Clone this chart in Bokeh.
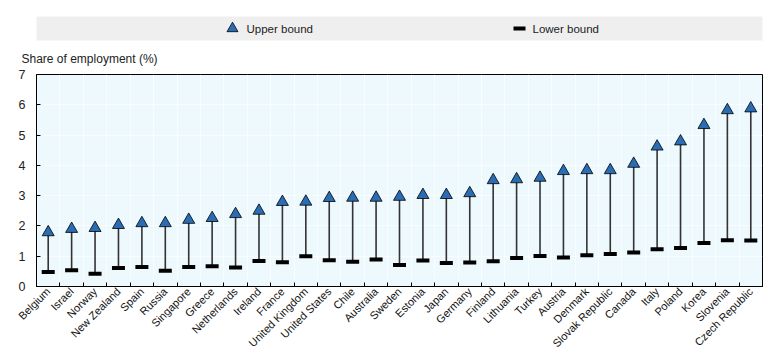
import numpy as np
from bokeh.plotting import figure
from bokeh.layouts import column
from bokeh.models import ColumnDataSource, FixedTicker, Range1d, Title
from bokeh.core.properties import value
from bokeh.embed import file_html
from bokeh.resources import INLINE

countries = ["Belgium", "Israel", "Norway", "New Zealand", "Spain", "Russia", "Singapore",
             "Greece", "Netherlands", "Ireland", "France", "United Kingdom", "United States",
             "Chile", "Australia", "Sweden", "Estonia", "Japan", "Germany", "Finland",
             "Lithuania", "Turkey", "Austria", "Denmark", "Slovak Republic", "Canada",
             "Italy", "Poland", "Korea", "Slovenia", "Czech Republic"]
upper = [1.79, 1.90, 1.93, 2.03, 2.09, 2.09, 2.20, 2.26, 2.39, 2.50, 2.79, 2.80, 2.92,
         2.93, 2.93, 2.96, 3.02, 3.02, 3.08, 3.51, 3.54, 3.59, 3.81, 3.84, 3.84, 4.05,
         4.62, 4.79, 5.33, 5.82, 5.88]
lower = [0.48, 0.54, 0.42, 0.61, 0.64, 0.52, 0.64, 0.67, 0.63, 0.84, 0.80, 1.00, 0.87,
         0.82, 0.89, 0.71, 0.86, 0.78, 0.79, 0.83, 0.94, 1.01, 0.96, 1.03, 1.07, 1.12,
         1.23, 1.27, 1.44, 1.53, 1.52]
y_ticks = [0, 1, 2, 3, 4, 5, 6, 7]
legend_labels = ["Upper bound", "Lower bound"]
y_title = "Share of employment (%)"

NARROW = "Liberation Sans Narrow, Arial Narrow, Liberation Sans, sans-serif"
REG = "Liberation Sans, Arial, sans-serif"
BLUE = "#2a6db4"

xs = list(range(len(countries)))
src = ColumnDataSource(dict(x=xs, upper=upper, lower=lower, name=countries))

# ---- legend strip (frame aligned with the main plot frame; pixel-like coords) ----
leg = figure(width=784, height=41, x_range=Range1d(36, 762), y_range=Range1d(0, 24),
             x_axis_type=None, y_axis_type=None, toolbar_location=None,
             output_backend="svg", min_border_left=36, min_border_right=22,
             min_border_top=16, min_border_bottom=1)
leg.background_fill_color = "#efefef"
leg.border_fill_color = "white"
leg.outline_line_color = None
leg.grid.visible = False
leg.scatter(x=[232], y=[12], marker="triangle", size=11, fill_color=BLUE,
            line_color="black", line_width=0.8)
leg.rect(x=[519], y=[12], width=12, height=4, fill_color="black", line_color=None)
leg.text(x=[246, 532], y=[12, 12], text=legend_labels, text_font=value(NARROW),
         text_font_size="11.5px", text_baseline="middle", text_color="#222222")

# ---- main plot ----
p = figure(width=784, height=318, x_range=Range1d(-0.5, len(countries) - 0.5),
           y_range=Range1d(0, 7), toolbar_location=None, output_backend="svg",
           min_border_left=36, min_border_right=22, min_border_top=31,
           min_border_bottom=73)
p.background_fill_color = "#edf9fd"
p.border_fill_color = "white"
p.outline_line_color = "black"
p.outline_line_width = 1

t = Title(text=y_title, align="left", offset=-15, standoff=17,
          text_font=NARROW, text_font_size="12px", text_font_style="normal",
          text_color="#222222")
p.add_layout(t, "above")

boundaries = [i - 0.5 for i in range(len(countries) + 1)]
p.xaxis.ticker = FixedTicker(ticks=xs, minor_ticks=boundaries)
p.xaxis.major_label_overrides = {i: c for i, c in enumerate(countries)}
p.xaxis.major_tick_in = 0
p.xaxis.major_tick_out = 0
p.xaxis.minor_tick_in = 4
p.xaxis.minor_tick_out = 0
p.xaxis.minor_tick_line_color = "black"
p.xaxis.major_label_orientation = np.pi / 4
p.xaxis.major_label_text_font = REG
p.xaxis.major_label_text_font_size = "11px"
p.xaxis.major_label_text_color = "#111111"
p.xaxis.major_label_standoff = 3
p.xaxis.axis_line_color = "black"

p.yaxis.ticker = FixedTicker(ticks=y_ticks)
p.yaxis.major_tick_in = 4
p.yaxis.major_tick_out = 0
p.yaxis.minor_tick_line_color = None
p.yaxis.major_label_text_font = NARROW
p.yaxis.major_label_text_font_size = "12.5px"
p.yaxis.major_label_text_color = "#222222"
p.yaxis.major_label_standoff = 11
p.yaxis.axis_line_color = "black"

p.xgrid.ticker = FixedTicker(ticks=boundaries)
p.xgrid.grid_line_color = "white"
p.xgrid.grid_line_alpha = 0.7
p.ygrid.grid_line_color = "white"
p.ygrid.grid_line_alpha = 0.7

p.segment(x0="x", y0="lower", x1="x", y1="upper", source=src,
          line_color="#333333", line_width=1.6)
p.rect(x="x", y="lower", width=13, height=4, width_units="screen",
       height_units="screen", source=src, fill_color="black", line_color=None)
p.scatter(x="x", y="upper", marker="triangle", size=12, source=src,
          fill_color=BLUE, line_color="black", line_width=0.8)

layout = column(leg, p, spacing=0)
open("out.html", "w").write(file_html(layout, INLINE))
